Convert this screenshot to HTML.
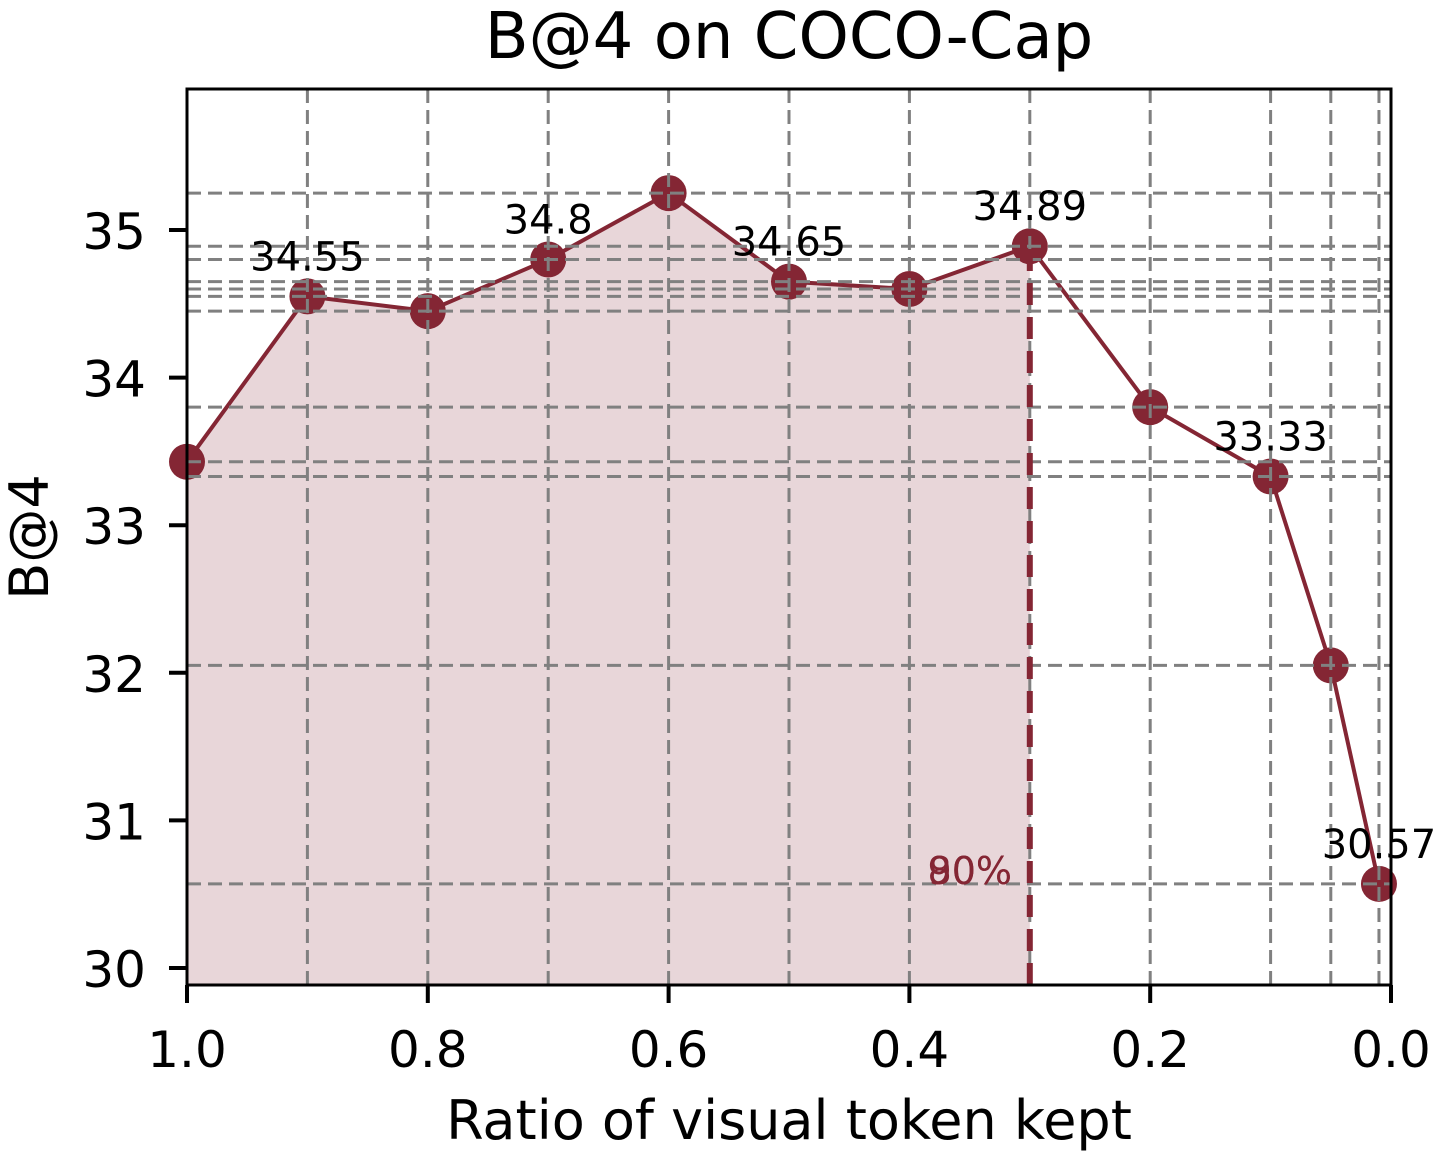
<!DOCTYPE html>
<html><head><meta charset="utf-8"><style>
body{margin:0;background:#fff}
svg text{font-family:"DejaVu Sans","Liberation Sans",sans-serif}
</style></head><body>
<svg id="chart" width="1440" height="1156" xmlns="http://www.w3.org/2000/svg">
<g id="fill"></g>
<g id="series"></g>
<g id="grid"></g>
<g id="thr"></g>
<g id="labels"></g>
<rect x="187" y="89" width="1204" height="896" fill="none" stroke="#000" stroke-width="3"/>
<g id="axes"></g>
<text x="789" y="58" font-size="64" text-anchor="middle">B@4 on COCO-Cap</text>
<text x="789" y="1139" font-size="54" text-anchor="middle">Ratio of visual token kept</text>
<text transform="translate(48,537) rotate(-90)" font-size="54" text-anchor="middle">B@4</text>
<text x="1012" y="884" font-size="38" fill="#842634" text-anchor="end">80%</text>
<text x="1012" y="884" font-size="38" fill="#842634" text-anchor="end">90%</text>
</svg>
<script>
const ratios=[1.0,0.9,0.8,0.7,0.6,0.5,0.4,0.3,0.2,0.1,0.05,0.01];
const scores=[33.43,34.55,34.45,34.8,35.25,34.65,34.6,34.89,33.8,33.33,32.05,30.57];
const labelIdx=[1,3,5,7,9,11];
const xTicks=[1.0,0.8,0.6,0.4,0.2,0.0];
const xTickLabels=["1.0","0.8","0.6","0.4","0.2","0.0"];
const yTicks=[30,31,32,33,34,35];
const threshold=0.3;
const X0=187,X1=1391,Y0=985,Y1=89,ymin=29.885,ymax=35.955;
const sx=v=>X0+(1-v)*(X1-X0);
const sy=v=>Y0-(v-ymin)/(ymax-ymin)*(Y0-Y1);
const NS="http://www.w3.org/2000/svg";
function mk(tag,parent,attrs){const e=document.createElementNS(NS,tag);for(const k in attrs)e.setAttribute(k,attrs[k]);document.getElementById(parent).appendChild(e);return e;}
const RED="#842634";
let pts=[];let last=0;
ratios.forEach((r,i)=>{if(r>=threshold){pts.push(sx(r)+","+sy(scores[i]));last=i;}});
pts.push(sx(ratios[last])+","+Y0);pts.push(sx(ratios[0])+","+Y0);
let f=mk("polygon","fill",{points:pts.join(" "),fill:"#e8d6d9"});


let pl=mk("polyline","series",{points:ratios.map((r,i)=>sx(r)+","+sy(scores[i])).join(" "),fill:"none",stroke:RED,"stroke-width":4});


ratios.forEach((r,i)=>{let c=mk("circle","series",{cx:sx(r),cy:sy(scores[i]),r:18,fill:RED});

});
scores.forEach(s=>{let l=mk("line","grid",{x1:X0,x2:X1,y1:sy(s),y2:sy(s),stroke:"#808080","stroke-width":3,"stroke-dasharray":"14,7"});

});
ratios.forEach(r=>{let l=mk("line","grid",{x1:sx(r),x2:sx(r),y1:Y1,y2:Y0,stroke:"#808080","stroke-width":3,"stroke-dasharray":"14,7"});

});
let tl=mk("line","thr",{x1:sx(threshold),x2:sx(threshold),y1:Y0,y2:sy(scores[last]),stroke:RED,"stroke-width":6,"stroke-dasharray":"22,12"});


labelIdx.forEach(i=>{let t=mk("text","labels",{x:sx(ratios[i]),y:sy(scores[i])-26,"font-size":40,"text-anchor":"middle"});t.textContent=String(scores[i]);

});
xTicks.forEach((v,i)=>{let l=mk("line","axes",{x1:sx(v),x2:sx(v),y1:Y0,y2:Y0+18,stroke:"#000","stroke-width":4});


let t=mk("text","axes",{x:sx(v),y:Y0+82,"font-size":50,"text-anchor":"middle"});t.textContent=xTickLabels[i];

});
yTicks.forEach(v=>{let l=mk("line","axes",{x1:X0-18,x2:X0,y1:sy(v),y2:sy(v),stroke:"#000","stroke-width":4});


let t=mk("text","axes",{x:146,y:sy(v)+19,"font-size":50,"text-anchor":"end"});t.textContent=String(v);

});
</script>
</body></html>
